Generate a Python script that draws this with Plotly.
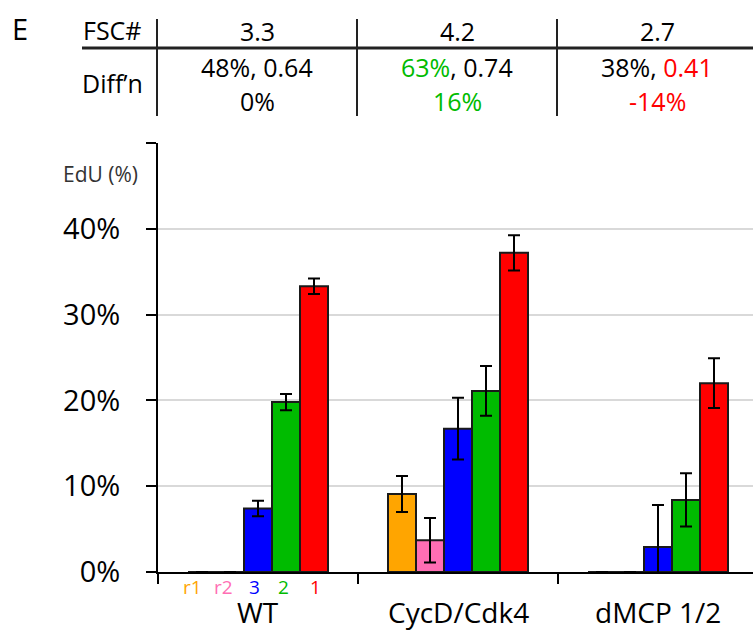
import plotly.graph_objects as go

# ---------------- data ----------------
groups = ["WT", "CycD/Cdk4", "dMCP 1/2"]
series_names = ["r1", "r2", "3", "2", "1"]
series_colors = ["#FFA500", "#FF6EB4", "#0000FF", "#00BB00", "#FF0000"]
values = {
    "r1": [0, 9.1, 0],
    "r2": [0, 3.7, 0],
    "3": [7.4, 16.7, 2.9],
    "2": [19.8, 21.1, 8.4],
    "1": [33.3, 37.2, 22.0],
}
errors = {
    "r1": [0, 2.1, 0],
    "r2": [0, 2.6, 0],
    "3": [0.9, 3.6, 4.9],
    "2": [0.95, 2.9, 3.1],
    "1": [0.9, 2.05, 2.9],
}
y_ticks = [0, 10, 20, 30, 40, 50]
y_ticklabels = ["0%", "10%", "20%", "30%", "40%", ""]

fsc_values = ["3.3", "4.2", "2.7"]
diff_row1 = ["48%, 0.64",
             '<span style="color:#00BB00">63%</span>, 0.74',
             '38%, <span style="color:#FF0000">0.41</span>']
diff_row2 = ["0%",
             '<span style="color:#00BB00">16%</span>',
             '<span style="color:#FF0000">-14%</span>']

FONT = "Open Sans"
W, H = 753, 631
L, R, T, B = 158, 0, 143, 59
PW = W - L - R
PH = H - T - B


def px(x):
    return (x - L) / PW


def py(y):
    return (H - B - y) / PH


fig = go.Figure()
for name, col in zip(series_names, series_colors):
    fig.add_trace(go.Bar(
        x=groups, y=values[name], name=name,
        marker=dict(color=col, line=dict(color="#1a1a1a", width=2)),
        error_y=dict(type="data", array=errors[name], visible=True,
                     color="black", thickness=2, width=6),
    ))

annotations = []
# sub-labels under WT
sub_offsets = [-0.33, -0.175, -0.02, 0.125, 0.285]
for name, col, off in zip(series_names, series_colors, sub_offsets):
    annotations.append(dict(x=off, y=py(587), xref="x", yref="paper",
                            text=name, showarrow=False,
                            font=dict(size=19, color=col, family=FONT),
                            xanchor="center", yanchor="middle"))
# group labels
for i, g in enumerate(groups):
    annotations.append(dict(x=i, y=py(612), xref="x", yref="paper",
                            text=g, showarrow=False,
                            font=dict(size=28, color="black", family=FONT),
                            xanchor="center", yanchor="middle"))
# EdU label
annotations.append(dict(x=px(100), y=py(174), xref="paper", yref="paper",
                        text="EdU (%)", showarrow=False,
                        font=dict(size=21, color="#333333", family=FONT),
                        xanchor="center", yanchor="middle"))
# header table
annotations.append(dict(x=px(20), y=py(28), xref="paper", yref="paper",
                        text="E", showarrow=False,
                        font=dict(size=29, color="black", family=FONT),
                        xanchor="center", yanchor="middle"))
annotations.append(dict(x=px(112), y=py(30), xref="paper", yref="paper",
                        text="FSC#", showarrow=False,
                        font=dict(size=25, color="black", family=FONT),
                        xanchor="center", yanchor="middle"))
annotations.append(dict(x=px(112), y=py(83), xref="paper", yref="paper",
                        text="Diff’n", showarrow=False,
                        font=dict(size=25, color="black", family=FONT),
                        xanchor="center", yanchor="middle"))
for i in range(3):
    cx = 257 + 200 * i
    annotations.append(dict(x=px(cx), y=py(31), xref="paper", yref="paper",
                            text=fsc_values[i], showarrow=False,
                            font=dict(size=25, color="black", family=FONT),
                            xanchor="center", yanchor="middle"))
    annotations.append(dict(x=px(cx), y=py(67), xref="paper", yref="paper",
                            text=diff_row1[i], showarrow=False,
                            font=dict(size=25, color="black", family=FONT),
                            xanchor="center", yanchor="middle"))
    annotations.append(dict(x=px(cx), y=py(101), xref="paper", yref="paper",
                            text=diff_row2[i], showarrow=False,
                            font=dict(size=25, color="black", family=FONT),
                            xanchor="center", yanchor="middle"))

shapes = []
shapes.append(dict(type="line", xref="paper", yref="paper",
                   x0=px(82), x1=px(753), y0=py(48), y1=py(48),
                   line=dict(color="#222222", width=3)))
for i in range(3):
    xv = 157 + 200 * i
    shapes.append(dict(type="line", xref="paper", yref="paper",
                       x0=px(xv), x1=px(xv), y0=py(19), y1=py(116),
                       line=dict(color="#222222", width=2)))

fig.update_layout(
    width=W, height=H,
    margin=dict(l=L, r=R, t=T, b=B, pad=0),
    paper_bgcolor="white", plot_bgcolor="white",
    barmode="group", bargap=0.3, bargroupgap=0,
    showlegend=False,
    font=dict(family=FONT, color="black"),
    annotations=annotations, shapes=shapes,
    xaxis=dict(type="category", range=[-0.5, 2.475],
               tickson="boundaries", ticks="outside", ticklen=10,
               tickwidth=2, tickcolor="black", showticklabels=False,
               showline=True, linecolor="black", linewidth=2,
               showgrid=False, zeroline=False),
    yaxis=dict(range=[0, 50], tickvals=y_ticks, ticktext=y_ticklabels,
               ticks="outside", ticklen=10, tickwidth=2, tickcolor="black",
               tickfont=dict(size=29, family=FONT, color="black"),
               ticklabelstandoff=20,
               showline=True, linecolor="black", linewidth=2,
               showgrid=True, gridcolor="#d9d9d9", gridwidth=2,
               zeroline=False),
)

fig.write_html("out.html")
